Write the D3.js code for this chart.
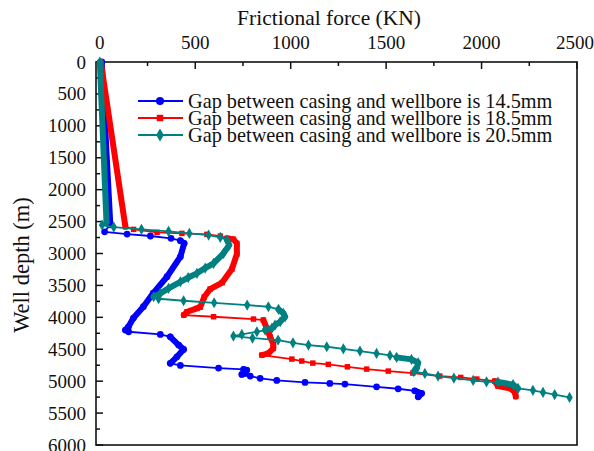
<!DOCTYPE html>
<html lang="en">
<head>
    <meta charset="UTF-8">
    <title>Frictional force vs well depth</title>
    <style>
        body { margin: 0; background: #fff; }
        svg text { font-family: "Liberation Serif", "Times New Roman", serif; fill: #111; }
    </style>
</head>
<body>
    <svg id="chart" width="594" height="451"></svg>
    <script src="https://d3js.org/d3.v7.min.js"></script>
    <script>
        // Datos: [fuerza de friccion (KN), profundidad (m)]
        const gap145 = [
            [10, 0], [55, 2550], [25, 2660], [143, 2695], [265, 2726], [373, 2763], [422, 2800],
            [442, 2841], [422, 3051], [352, 3364], [280, 3620], [228, 3834], [176, 4011], [150, 4148],
            [134, 4200], [151, 4226], [317, 4267], [369, 4305], [413, 4435], [439, 4502], [404, 4618],
            [369, 4721], [422, 4753], [622, 4795], [753, 4815], [770, 4826], [761, 4878], [744, 4894],
            [788, 4920], [840, 4956], [927, 4988], [1075, 5019], [1205, 5035], [1284, 5046], [1450, 5088],
            [1563, 5119], [1650, 5151], [1686, 5191], [1668, 5245]
        ];
        const gap185 = [
            [5, 0], [134, 2580], [177, 2622], [300, 2669], [430, 2685], [561, 2700], [631, 2727],
            [666, 2763], [700, 2778], [718, 2841], [718, 3009], [692, 3244], [641, 3455], [578, 3557],
            [547, 3682], [526, 3839], [509, 3860], [457, 3913], [440, 3965], [596, 3991], [805, 4027],
            [857, 4043], [875, 4173], [892, 4305], [909, 4419], [909, 4486], [883, 4565], [849, 4591],
            [1006, 4654], [1058, 4685], [1116, 4717], [1197, 4737], [1297, 4775], [1398, 4811], [1511, 4842],
            [1640, 4873], [1781, 4920], [1891, 4941], [1975, 4967], [2069, 4999], [2086, 5077], [2148, 5113],
            [2174, 5166], [2179, 5241]
        ];
        const gap205 = [
            [0, 0], [35, 2510], [12, 2554], [73, 2586], [218, 2622], [360, 2653], [469, 2685],
            [570, 2711], [631, 2747], [666, 2789], [678, 2868], [648, 2998], [596, 3154], [552, 3228],
            [509, 3311], [463, 3377], [422, 3443], [360, 3546], [317, 3625], [282, 3678], [308, 3709],
            [439, 3740], [599, 3772], [772, 3808], [883, 3834], [936, 3875], [962, 3938], [971, 3991],
            [945, 4069], [918, 4121], [901, 4173], [866, 4200], [823, 4226], [744, 4267], [700, 4294],
            [800, 4325], [934, 4356], [1012, 4399], [1093, 4435], [1189, 4461], [1276, 4493], [1363, 4529],
            [1450, 4565], [1520, 4596], [1555, 4627], [1633, 4659], [1668, 4712], [1660, 4800], [1645, 4850],
            [1703, 4878], [1772, 4920], [1855, 4952], [1956, 4988], [2026, 5010], [2086, 5014], [2165, 5054],
            [2191, 5113], [2269, 5144], [2322, 5176], [2383, 5210], [2461, 5254]
        ];
        const seriesNames = [
            "Gap between casing and wellbore is 14.5mm",
            "Gap between casing and wellbore is 18.5mm",
            "Gap between casing and wellbore is 20.5mm"
        ];
        const xTicks = [0, 500, 1000, 1500, 2000, 2500];
        const yTicks = [0, 500, 1000, 1500, 2000, 2500, 3000, 3500, 4000, 4500, 5000, 5500, 6000];

        // Estilo de cada serie; "dense" = tramos donde los puntos se amontonan (linea gruesa)
        const series = [
            { data: gap145, color: "#0000ff", symbol: d3.symbolCircle, size: 36, dense: [[0, 1], [6, 14], [17, 21], [24, 27], [36, 38]] },
            { data: gap185, color: "#ff0000", symbol: d3.symbolSquare, size: 30, dense: [[0, 1], [7, 18], [21, 27], [39, 43]] },
            { data: gap205, color: "#008080", symbol: d3.symbolDiamond, size: 36, dense: [[0, 1], [9, 19], [25, 31], [44, 48], [54, 56]] }
        ];

        const margin = { top: 62, right: 17, bottom: 6, left: 96 };
        const width = 594, height = 451;
        const svg = d3.select("#chart");

        const x = d3.scaleLinear().domain([-20, 2500]).range([margin.left, width - margin.right]);
        const y = d3.scaleLinear().domain([0, 6000]).range([margin.top, height - margin.bottom]);

        // marco
        svg.append("rect")
            .attr("x", margin.left).attr("y", margin.top)
            .attr("width", width - margin.right - margin.left)
            .attr("height", height - margin.bottom - margin.top)
            .attr("fill", "none").attr("stroke", "#111").attr("stroke-width", 1.6);

        // eje superior (ticks hacia dentro)
        const xMinor = d3.range(0, 2501, 250);
        svg.append("g").selectAll("line").data(xMinor).join("line")
            .attr("x1", d => x(d)).attr("x2", d => x(d))
            .attr("y1", margin.top).attr("y2", d => margin.top + (d % 500 === 0 ? 7 : 4))
            .attr("stroke", "#111").attr("stroke-width", 1.5);
        svg.append("g").selectAll("text").data(xTicks).join("text")
            .attr("x", d => Math.min(x(d), width - 19)).attr("y", 49)
            .attr("text-anchor", "middle").attr("font-size", 19)
            .text(d => d);
        svg.append("text")
            .attr("x", 329).attr("y", 25)
            .attr("text-anchor", "middle").attr("font-size", 21.5)
            .text("Frictional force (KN)");

        // eje izquierdo
        const yMinor = d3.range(0, 6001, 250);
        svg.append("g").selectAll("line").data(yMinor).join("line")
            .attr("y1", d => y(d)).attr("y2", d => y(d))
            .attr("x1", margin.left).attr("x2", d => margin.left + (d % 500 === 0 ? 7 : 4))
            .attr("stroke", "#111").attr("stroke-width", 1.5);
        svg.append("g").selectAll("text").data(yTicks).join("text")
            .attr("x", 86).attr("y", d => y(d) + 6.5)
            .attr("text-anchor", "end").attr("font-size", 19)
            .text(d => d);
        svg.append("text")
            .attr("transform", "translate(29,265) rotate(-90)")
            .attr("text-anchor", "middle").attr("font-size", 22.5)
            .text("Well depth (m)");

        // series
        const line = d3.line().x(d => x(d[0])).y(d => y(d[1]));
        const plot = svg.append("g");
        series.forEach(s => {
            plot.append("path")
                .attr("d", line(s.data))
                .attr("fill", "none").attr("stroke", s.color)
                .attr("stroke-width", 1.8).attr("stroke-linejoin", "round");
            s.dense.forEach(([a, b]) => {
                plot.append("path")
                    .attr("d", line(s.data.slice(a, b + 1)))
                    .attr("fill", "none").attr("stroke", s.color)
                    .attr("stroke-width", 6).attr("stroke-linejoin", "round").attr("stroke-linecap", "round");
            });
            plot.append("g").selectAll("path").data(s.data).join("path")
                .attr("transform", d => `translate(${x(d[0])},${y(d[1])})`)
                .attr("d", d3.symbol().type(s.symbol).size(s.size))
                .attr("fill", s.color);
        });

        // leyenda
        const legend = svg.append("g");
        series.forEach((s, i) => {
            const ly = 101 + i * 17;
            legend.append("line")
                .attr("x1", 138).attr("x2", 183).attr("y1", ly).attr("y2", ly)
                .attr("stroke", s.color).attr("stroke-width", 2.2);
            legend.append("path")
                .attr("transform", `translate(160,${ly})`)
                .attr("d", d3.symbol().type(s.symbol).size(s.size * 1.4))
                .attr("fill", s.color);
            legend.append("text")
                .attr("x", 188).attr("y", ly + 6.5)
                .attr("font-size", 20.3)
                .text(seriesNames[i]);
        });
    </script>
</body>
</html>
